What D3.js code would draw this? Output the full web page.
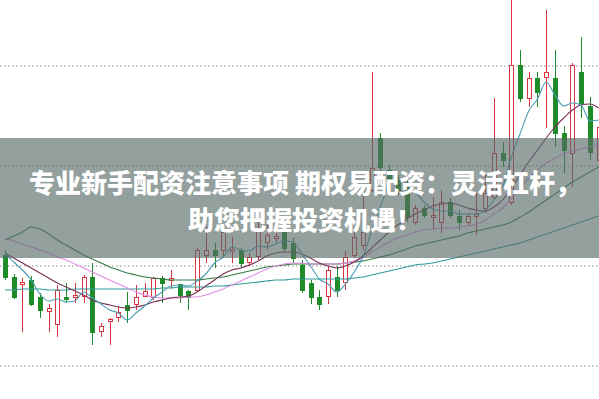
<!DOCTYPE html>
<html>
<head>
<meta charset="utf-8">
<script src="https://cdn.jsdelivr.net/npm/d3@7"></script>
<style>
  html, body { margin: 0; padding: 0; background: #fff; }
  #kline svg { display: block; }
</style>
</head>
<body>
<div id="kline"></div>
<script>
// daily bars
var open  = [10.10, 9.88, 9.81, 9.85, 9.68, 9.54, 9.41, 9.68, 9.68, 9.69,
             9.88, 9.34, 9.44, 9.48, 9.60, 9.61, 9.69, 9.68, 9.87, 9.85,
             9.81, 9.74, 9.75, 10.10, 10.15, 10.15, 10.14, 10.15, 10.03, 10.09,
             10.23, 10.27, 10.35, 10.22, 10.00, 9.82, 9.68, 9.69, 9.88, 9.83,
             10.10, 10.20, 10.75, 11.27, 10.95, 10.85, 10.78, 10.43, 10.57, 10.48,
             10.43, 10.63, 10.49, 10.43, 10.49, 10.57, 10.68, 11.12, 10.63, 12.00,
             11.67, 11.87, 11.88, 11.87, 11.32, 11.12, 11.93, 11.59, 11.05];
var high  = [10.15, 9.91, 9.87, 9.89, 9.72, 9.61, 9.80, 9.82, 9.82, 9.90,
             10.02, 9.42, 9.47, 9.59, 9.73, 9.80, 9.82, 9.88, 9.89, 9.95,
             9.81, 9.75, 10.17, 10.38, 10.22, 10.40, 10.28, 10.17, 10.12, 10.43,
             10.45, 10.35, 10.43, 10.27, 10.05, 9.85, 9.75, 9.99, 9.99, 10.14,
             10.33, 10.72, 11.93, 11.32, 11.00, 10.90, 10.85, 10.60, 10.60, 10.68,
             10.75, 10.67, 10.55, 10.52, 10.73, 10.92, 11.67, 11.23, 12.68, 12.15,
             11.93, 11.93, 12.55, 12.15, 11.39, 12.02, 12.28, 11.68, 11.45];
var low   = [9.85, 9.66, 9.33, 9.59, 9.47, 9.33, 9.28, 9.62, 9.62, 9.62,
             9.20, 9.28, 9.20, 9.43, 9.42, 9.55, 9.68, 9.65, 9.62, 9.77,
             9.62, 9.55, 9.73, 10.02, 9.97, 10.09, 10.02, 9.97, 9.99, 10.05,
             10.15, 10.22, 10.13, 10.02, 9.72, 9.61, 9.55, 9.61, 9.68, 9.75,
             10.07, 10.15, 10.73, 10.93, 10.77, 10.70, 10.43, 10.40, 10.47, 10.35,
             10.32, 10.47, 10.35, 10.39, 10.30, 10.52, 10.65, 10.98, 10.60, 11.63,
             11.58, 11.58, 11.37, 11.18, 10.92, 10.78, 11.47, 11.05, 11.00];
var close = [9.88, 9.68, 9.83, 9.61, 9.55, 9.57, 9.75, 9.66, 9.70, 9.88,
             9.33, 9.39, 9.46, 9.53, 9.55, 9.68, 9.74, 9.87, 9.82, 9.87,
             9.70, 9.68, 10.15, 10.15, 10.10, 10.33, 10.16, 10.02, 10.08, 10.35,
             10.30, 10.29, 10.17, 10.07, 9.75, 9.68, 9.61, 9.95, 9.75, 10.08,
             10.28, 10.33, 10.97, 10.98, 10.83, 10.75, 10.48, 10.57, 10.50, 10.50,
             10.63, 10.50, 10.43, 10.49, 10.51, 10.72, 11.12, 11.05, 12.00, 11.67,
             11.87, 11.73, 11.93, 11.32, 11.15, 12.00, 11.62, 11.13, 11.38];

// moving averages as drawn
var ma5  = [10.12, 10.03, 9.95, 9.85, 9.71, 9.64, 9.66, 9.63, 9.64, 9.73,
            9.67, 9.61, 9.55, 9.52, 9.45, 9.52, 9.59, 9.67, 9.73, 9.79,
            9.80, 9.79, 9.84, 9.91, 10.02, 10.08, 10.18, 10.15, 10.14, 10.19,
            10.18, 10.21, 10.24, 10.23, 10.11, 9.99, 9.86, 9.81, 9.73, 9.81,
            9.93, 10.08, 10.34, 10.58, 10.80, 10.87, 10.81, 10.73, 10.63, 10.56,
            10.54, 10.54, 10.51, 10.51, 10.51, 10.55, 10.65, 10.78, 11.08, 11.31,
            11.54, 11.66, 11.83, 11.70, 11.59, 11.62, 11.60, 11.44, 11.45];
var ma10 = [10.12, 10.07, 10.02, 9.97, 9.92, 9.87, 9.82, 9.78, 9.74, 9.70,
            9.65, 9.62, 9.60, 9.58, 9.57, 9.58, 9.60, 9.63, 9.65, 9.67,
            9.68, 9.69, 9.73, 9.79, 9.85, 9.91, 9.95, 9.97, 10.00, 10.04,
            10.09, 10.12, 10.13, 10.13, 10.11, 10.07, 10.02, 9.99, 9.97, 9.99,
            10.03, 10.09, 10.17, 10.25, 10.33, 10.40, 10.46, 10.51, 10.55, 10.59,
            10.61, 10.62, 10.60, 10.57, 10.55, 10.54, 10.58, 10.65, 10.77, 10.90,
            11.03, 11.15, 11.27, 11.38, 11.47, 11.55, 11.60, 11.61, 11.57];
var ma20 = [10.27, 10.24, 10.21, 10.18, 10.15, 10.12, 10.08, 10.05, 10.01, 9.97,
            9.93, 9.89, 9.85, 9.81, 9.77, 9.73, 9.70, 9.68, 9.67, 9.67,
            9.67, 9.68, 9.68, 9.70, 9.73, 9.76, 9.80, 9.84, 9.88, 9.92,
            9.96, 9.99, 10.01, 10.02, 10.02, 10.01, 10.01, 10.01, 10.01, 10.02,
            10.04, 10.07, 10.13, 10.18, 10.23, 10.27, 10.30, 10.33, 10.35, 10.36,
            10.37, 10.37, 10.38, 10.39, 10.41, 10.45, 10.51, 10.57, 10.67, 10.77,
            10.87, 10.95, 11.02, 11.07, 11.11, 11.14, 11.16, 11.18, 11.20];
var ma30 = [10.25, 10.29, 10.33, 10.38, 10.36, 10.31, 10.25, 10.20, 10.15, 10.10,
            10.06, 10.02, 9.98, 9.95, 9.92, 9.90, 9.88, 9.87, 9.86, 9.85,
            9.85, 9.85, 9.85, 9.86, 9.87, 9.88, 9.90, 9.92, 9.94, 9.96,
            9.98, 9.99, 10.00, 10.01, 10.01, 10.01, 10.01, 10.01, 10.01, 10.02,
            10.03, 10.04, 10.06, 10.08, 10.10, 10.13, 10.16, 10.19, 10.21, 10.23,
            10.25, 10.27, 10.29, 10.32, 10.34, 10.36, 10.38, 10.40, 10.43, 10.48,
            10.53, 10.59, 10.65, 10.71, 10.77, 10.83, 10.88, 10.93, 10.98];
var ma60 = [9.75, 9.75, 9.76, 9.76, 9.76, 9.75, 9.75, 9.75, 9.76, 9.76,
            9.76, 9.76, 9.76, 9.76, 9.76, 9.76, 9.76, 9.76, 9.77, 9.77,
            9.78, 9.78, 9.78, 9.78, 9.79, 9.79, 9.80, 9.81, 9.82, 9.83,
            9.84, 9.85, 9.85, 9.86, 9.86, 9.86, 9.86, 9.86, 9.86, 9.86,
            9.87, 9.88, 9.90, 9.92, 9.94, 9.96, 9.98, 10.00, 10.01, 10.02,
            10.04, 10.06, 10.08, 10.10, 10.12, 10.14, 10.16, 10.18, 10.20, 10.22,
            10.25, 10.28, 10.31, 10.34, 10.37, 10.40, 10.43, 10.46, 10.49];

var gridPrices = [12, 11, 10, 9];
var titleLines = ["专业新手配资注意事项 期权易配资：灵活杠杆，", "助您把握投资机遇！"];

var RED = "#d9343f", GREEN = "#1f8c2a";

var width = 599, height = 399;
var svg = d3.select("#kline")
  .append("svg")
  .attr("width", width)
  .attr("height", height);

var days = d3.range(close.length);

var x = d3.scalePoint()
  .domain(days)
  .range([5, 598.6]);

var y = d3.scaleLinear()
  .domain([12.65, 8.66])
  .range([0, height]);

function px(v) { return Math.round(v) + 0.5; }

// dotted grid
svg.append("g")
  .attr("class", "grid")
  .call(d3.axisLeft(y).tickValues(gridPrices).tickSize(-width).tickFormat(""))
  .call(function(g) { g.select(".domain").remove(); })
  .selectAll("line")
    .attr("stroke", "#8a8a8a")
    .attr("stroke-dasharray", "1.5,2.5")
    .attr("transform", "translate(0,0.5)");

// candles
var bar = svg.append("g")
  .selectAll("g")
  .data(days)
  .enter().append("g");

bar.append("line")
  .attr("x1", function(i) { return px(x(i)); })
  .attr("x2", function(i) { return px(x(i)); })
  .attr("y1", function(i) { return y(high[i]); })
  .attr("y2", function(i) { return y(low[i]); })
  .attr("stroke", function(i) { return close[i] >= open[i] ? RED : GREEN; })
  .attr("stroke-width", 1);

bar.append("rect")
  .attr("x", function(i) { return Math.round(x(i)) - 1.5; })
  .attr("width", 4)
  .attr("y", function(i) { return px(y(Math.max(open[i], close[i]))); })
  .attr("height", function(i) {
    return Math.max(1, Math.round(Math.abs(y(open[i]) - y(close[i]))));
  })
  .attr("fill", function(i) { return close[i] >= open[i] ? "#ffffff" : GREEN; })
  .attr("stroke", function(i) { return close[i] >= open[i] ? RED : GREEN; })
  .attr("stroke-width", 1);

// average lines
var series = [
  {values: ma60, color: "#2f9a98"},
  {values: ma30, color: "#357a45"},
  {values: ma20, color: "#e58ae6"},
  {values: ma10, color: "#7a2f55"},
  {values: ma5,  color: "#4a9cb5"}
];

var line = d3.line()
  .x(function(v, i) { return x(i); })
  .y(function(v) { return y(v); })
  .curve(d3.curveMonotoneX);

svg.append("g")
  .selectAll("path")
  .data(series)
  .enter().append("path")
    .attr("d", function(s) { return line(s.values); })
    .attr("fill", "none")
    .attr("stroke", function(s) { return s.color; })
    .attr("stroke-width", 1.1);

// title banner over the chart
svg.append("rect")
  .attr("x", 0)
  .attr("y", 138)
  .attr("width", width)
  .attr("height", 120)
  .attr("fill", "rgb(88,106,103)")
  .attr("fill-opacity", 0.64);

svg.append("g")
  .selectAll("text")
  .data(titleLines)
  .enter().append("text")
    .attr("x", 305)
    .attr("y", function(d, i) { return 181 + i * 37; })
    .attr("text-anchor", "middle")
    .attr("dominant-baseline", "central")
    .attr("fill", "#ffffff")
    .style("font-family", "'Noto Sans CJK SC', 'Noto Sans', sans-serif")
    .style("font-weight", "900")
    .style("font-size", "26px")
    .text(function(d) { return d; });
</script>
</body>
</html>
